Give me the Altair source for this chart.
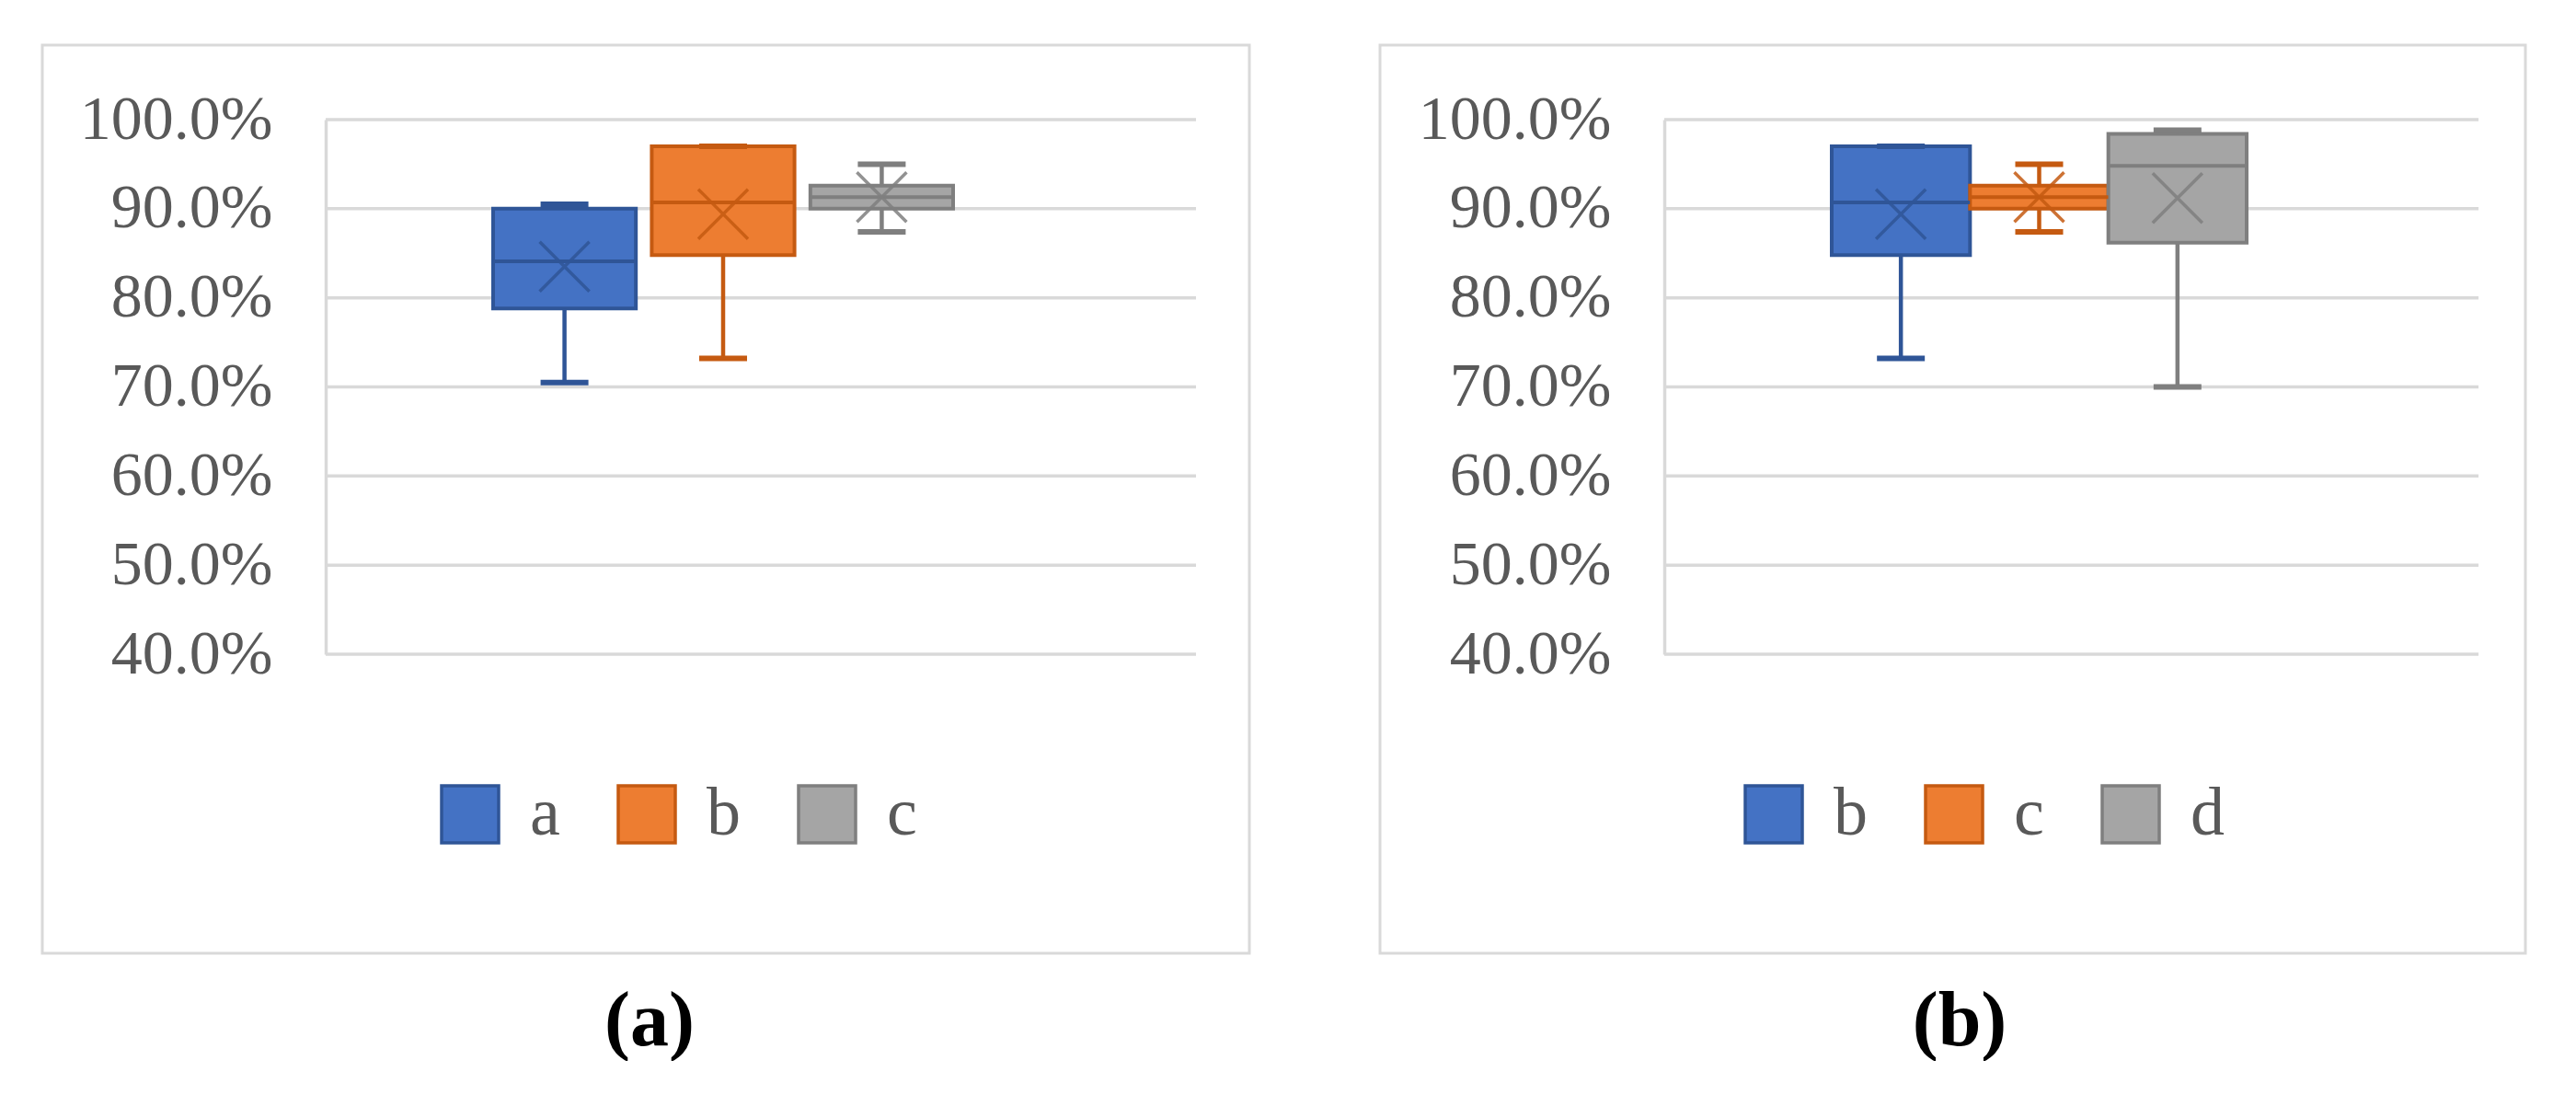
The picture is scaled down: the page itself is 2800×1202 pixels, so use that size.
import altair as alt
import pandas as pd

# ---- data ----
series_a = ["a", "b", "c"]
min_a = [0.705, 0.732, 0.874]
q1_a = [0.788, 0.848, 0.900]
med_a = [0.841, 0.907, 0.913]
q3_a = [0.900, 0.970, 0.926]
max_a = [0.905, 0.970, 0.950]
mean_a = [0.835, 0.894, 0.913]

series_b = ["b", "c", "d"]
min_b = [0.732, 0.874, 0.700]
q1_b = [0.848, 0.900, 0.862]
med_b = [0.907, 0.913, 0.948]
q3_b = [0.970, 0.926, 0.984]
max_b = [0.970, 0.950, 0.988]
mean_b = [0.894, 0.913, 0.912]

y_ticks = [0.4, 0.5, 0.6, 0.7, 0.8, 0.9, 1.0]

FILLS = ["#4472C4", "#ED7D31", "#A5A5A5"]
STROKES = ["#2F5597", "#C55A11", "#7F7F7F"]
GRID = "#D9D9D9"
SERIF = "Liberation Serif"
H = 581


def panel(series, mins, q1s, meds, q3s, maxs, means, width, xrange, pad_inner,
          bw, frame_x, frame_x2, legend_x, caption, caption_x):
    df = pd.DataFrame({"series": series, "min": mins, "q1": q1s, "med": meds,
                       "q3": q3s, "max": maxs, "mean": means})
    xs = alt.X("series:N", scale=alt.Scale(domain=series, range=xrange,
                                            paddingInner=pad_inner, paddingOuter=0),
               axis=None, sort=series)
    yscale = alt.Scale(domain=[0.4, 1.0], nice=False, zero=False)
    yaxis = alt.Axis(values=y_ticks, format=".1%", grid=False,
                     domain=True, domainColor=GRID, domainWidth=3.5,
                     ticks=False, labelFont=SERIF, labelFontSize=68,
                     labelColor="#595959", labelPadding=58, labelLimit=500,
                     title=None)
    leg = alt.Legend(orient="none", legendX=legend_x, legendY=718,
                     direction="horizontal", symbolType="square",
                     symbolSize=3844, symbolStrokeWidth=3.5, labelFont=SERIF,
                     labelFontSize=74, labelColor="#595959", labelOffset=28,
                     columnPadding=56, title=None)
    fill = alt.Fill("series:N", scale=alt.Scale(domain=series, range=FILLS), legend=leg)
    stroke = alt.Stroke("series:N", scale=alt.Scale(domain=series, range=STROKES), legend=leg)
    col = alt.Color("series:N", scale=alt.Scale(domain=series, range=STROKES), legend=None)

    def Y(f):
        return alt.Y(f"{f}:Q", scale=yscale, axis=yaxis)

    grid = alt.Chart(pd.DataFrame({"v": y_ticks})).mark_rule(
        color=GRID, strokeWidth=3.5).encode(
        y=Y("v"), x=alt.value(0), x2=alt.value(width))

    base = alt.Chart(df)
    box = base.mark_bar(strokeWidth=4, opacity=1).encode(
        x=xs, y=Y("q1"), y2="q3", fill=fill, stroke=stroke)
    median = base.mark_tick(size=bw, thickness=4, opacity=1).encode(
        x=xs, y=Y("med"), color=col)
    lower = base.mark_rule(strokeWidth=4.5).encode(x=xs, y=Y("min"), y2="q1", color=col)
    upper = base.mark_rule(strokeWidth=4.5).encode(x=xs, y=Y("q3"), y2="max", color=col)
    cap_lo = base.mark_tick(size=52, thickness=6, opacity=1).encode(
        x=xs, y=Y("min"), color=col)
    cap_hi = base.mark_tick(size=52, thickness=6, opacity=1).encode(
        x=xs, y=Y("max"), color=col)
    mean = base.mark_point(shape="M-1,-1L1,1M-1,1L1,-1", size=2916, filled=False,
                           strokeWidth=3.5, opacity=0.85).encode(
        x=xs, y=Y("mean"), color=col)

    one = alt.Chart(pd.DataFrame({"k": [0]}))
    frame = one.mark_rect(fill="transparent", stroke=GRID, strokeWidth=3).encode(
        x=alt.value(frame_x), x2=alt.value(frame_x2),
        y=alt.value(-81), y2=alt.value(906))
    cap_text = one.mark_text(text=caption, font=SERIF, fontSize=84,
                             fontWeight="bold", color="black",
                             baseline="middle", align="center").encode(
        x=alt.value(caption_x), y=alt.value(981))

    return alt.layer(frame, grid, box, lower, upper, cap_lo, cap_hi, median, mean,
                     cap_text).properties(width=width, height=H)


pa = panel(series_a, min_a, q1_a, med_a, q3_a, max_a, mean_a, 946,
           [182, 682], 0.1, 155, -308, 1004, 120, "(a)", 352)
pb = panel(series_b, min_b, q1_b, med_b, q3_b, max_b, mean_b, 885,
           [182, 633], 0.0, 150, -309, 936, 82, "(b)", 321)

chart = alt.hconcat(pa, pb, spacing=138).resolve_scale(
    x="independent", y="independent", fill="independent",
    stroke="independent", color="independent"
).resolve_legend(fill="independent", stroke="independent").properties(
    padding={"left": 36, "top": 39, "right": 0, "bottom": 0},
    background="white"
).configure_view(stroke=None)

chart.save("out.html", embed_options={"renderer": "svg", "actions": False})
